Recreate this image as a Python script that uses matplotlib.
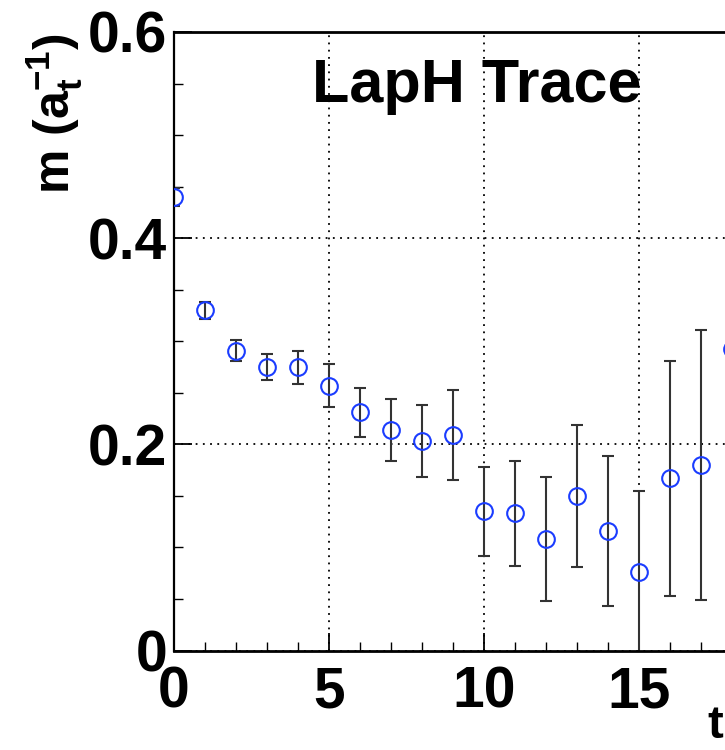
import matplotlib
matplotlib.use("Agg")
import matplotlib.pyplot as plt
from matplotlib.ticker import MultipleLocator, FixedLocator, FuncFormatter

plt.rcParams['font.family'] = ['Liberation Sans', 'DejaVu Sans']
plt.rcParams['font.weight'] = 'bold'
plt.rcParams['mathtext.fontset'] = 'custom'
plt.rcParams['mathtext.bf'] = 'Liberation Sans:bold'
plt.rcParams['mathtext.rm'] = 'Liberation Sans:bold'
plt.rcParams['mathtext.it'] = 'Liberation Sans:bold'
plt.rcParams['mathtext.default'] = 'bf'

# data
t_vals = [0, 1, 2, 3, 4, 5, 6, 7, 8, 9, 10, 11, 12, 13, 14, 15, 16, 17, 18]
m_vals = [0.440, 0.330, 0.291, 0.275, 0.275, 0.257, 0.231, 0.214, 0.203, 0.209,
          0.135, 0.133, 0.108, 0.150, 0.116, 0.076, 0.167, 0.180, 0.292]
m_err = [0.009, 0.008, 0.010, 0.013, 0.016, 0.021, 0.024, 0.030, 0.035, 0.044,
         0.043, 0.051, 0.060, 0.069, 0.073, 0.079, 0.114, 0.131, 0.196]
x_ticks = [0, 5, 10, 15]
y_ticks = [0, 0.2, 0.4, 0.6]
y_tick_labels = ["0", "0.2", "0.4", "0.6"]
title = "LapH Trace"

W, H = 725, 750
fig = plt.figure(figsize=(W / 100, H / 100), dpi=100)
ax = fig.add_axes([174 / W, 99.5 / H, 551 / W, 618.5 / H])

ax.errorbar(t_vals, m_vals, yerr=m_err, fmt='none', ecolor='0.2',
            elinewidth=1.5, capsize=4.3, capthick=1.5, zorder=2)
ax.plot(t_vals, m_vals, linestyle='none', marker='o', markersize=12,
        markerfacecolor='none', markeredgecolor='#1a3cff', markeredgewidth=1.5,
        zorder=3)

ax.set_xlim(0, 551 / 31)
ax.set_ylim(0, 0.6)

ax.xaxis.set_major_locator(FixedLocator(x_ticks))
ax.xaxis.set_minor_locator(MultipleLocator(1))
ax.yaxis.set_major_locator(FixedLocator(y_ticks))
ax.yaxis.set_minor_locator(MultipleLocator(0.05))
ax.set_yticklabels(y_tick_labels)
ax.xaxis.set_major_formatter(FuncFormatter(lambda v, p: f"{v:g}"))

ax.tick_params(which='both', direction='in', top=False, right=False, color='black')
ax.tick_params(which='major', length=13, width=1.3)
ax.tick_params(which='minor', length=6.5, width=1.0)
ax.tick_params(axis='x', which='major', labelsize=41, pad=11)
ax.tick_params(axis='y', which='major', labelsize=41, pad=5)
for lab in ax.get_xticklabels() + ax.get_yticklabels():
    lab.set_fontweight('bold')

ax.grid(True, which='major', color='black', linestyle=(0, (1, 3)), linewidth=1.3)

ax.spines['right'].set_visible(False)
ax.spines['left'].set_linewidth(1.6)
ax.spines['bottom'].set_linewidth(2.0)
ax.spines['top'].set_linestyle((0, (1, 1)))
ax.spines['top'].set_linewidth(2.0)

fig.text(312 / W, 1 - 102 / H, title, fontsize=44, fontweight='bold',
         ha='left', va='baseline')

fig.text(55 / W, 1 - 33 / H, r'm (a$_{t}^{-1}$)', fontsize=36, fontweight='bold',
         rotation=90, ha='center', va='top')

fig.text(707 / W, 1 - 738 / H, 't', fontsize=34, fontweight='bold',
         ha='left', va='baseline')

fig.savefig('out.png', dpi=100)
